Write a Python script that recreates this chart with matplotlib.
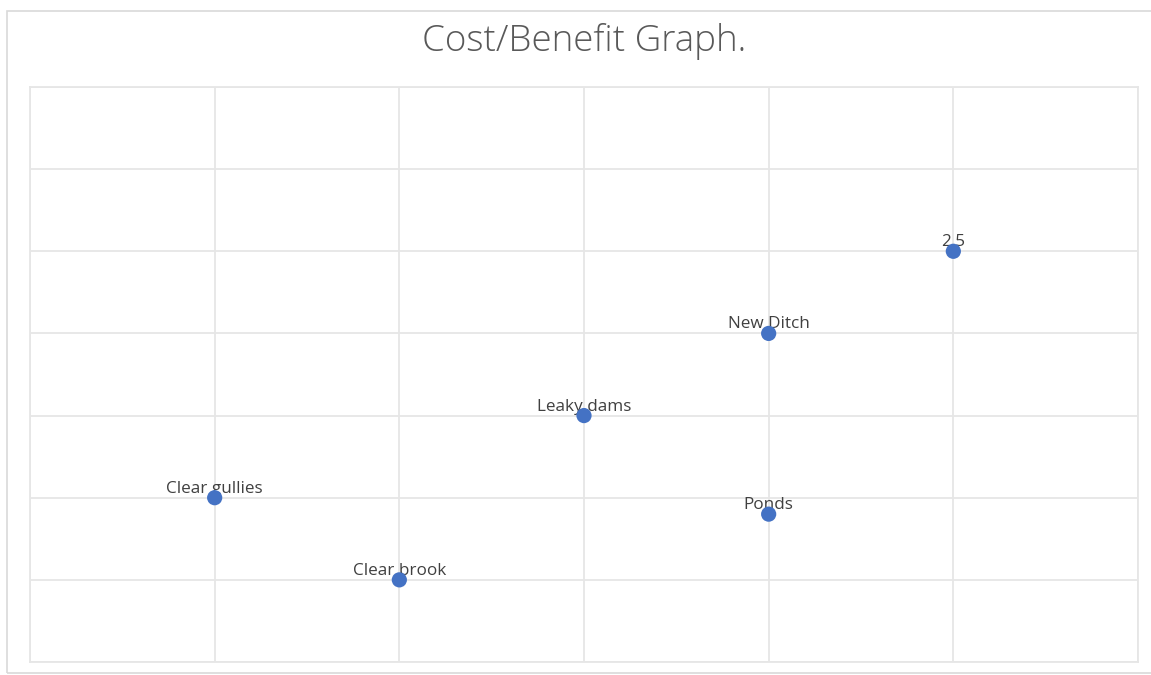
import matplotlib.pyplot as plt
from matplotlib.patches import Rectangle

labels = ["Clear gullies", "Clear brook", "Leaky dams", "New Ditch", "Ponds", "2.5"]
cost = [1, 2, 3, 4, 4, 5]
benefit = [1.0, 0.5, 1.5, 2.0, 0.9, 2.5]

W, H = 1151, 675
fig = plt.figure(figsize=(W / 100, H / 100), dpi=100)

# outer chart frame (right side runs off the image)
fig.patches.append(Rectangle((7 / W, 1 - 673 / H), (1160 - 7) / W, (673 - 11) / H,
                             transform=fig.transFigure, fill=False,
                             edgecolor="#d9d9d9", linewidth=1.2))

ax = fig.add_axes([30 / W, 1 - 662 / H, 1108 / W, 575 / H])
ax.set_xlim(0, 6)
ax.set_ylim(0, 3.5)
ax.set_xticks(range(0, 7))
ax.set_yticks([i * 0.5 for i in range(8)])
ax.grid(True, color="#e6e6e6", linewidth=1.3)
ax.tick_params(length=0, labelbottom=False, labelleft=False)
for s in ax.spines.values():
    s.set_color("#e6e6e6")
    s.set_linewidth(1.3)
ax.set_axisbelow(True)

# markers sit on top of their labels, like the original
ax.scatter(cost, benefit, s=120, color="#4472C4", zorder=5, edgecolors="none")
for x, y, t in zip(cost, benefit, labels):
    ax.annotate(t, (x, y), xytext=(0, 0.7), textcoords="offset points",
                ha="center", va="bottom", fontsize=12.3, color="#404040",
                family="Open Sans", zorder=4)

fig.text(584 / W, 1 - 41 / H, "Cost/Benefit Graph.", ha="center", va="center",
         fontsize=26.5, color="#595959", family="Open Sans", fontweight="light")

fig.savefig("out.png", dpi=100)
